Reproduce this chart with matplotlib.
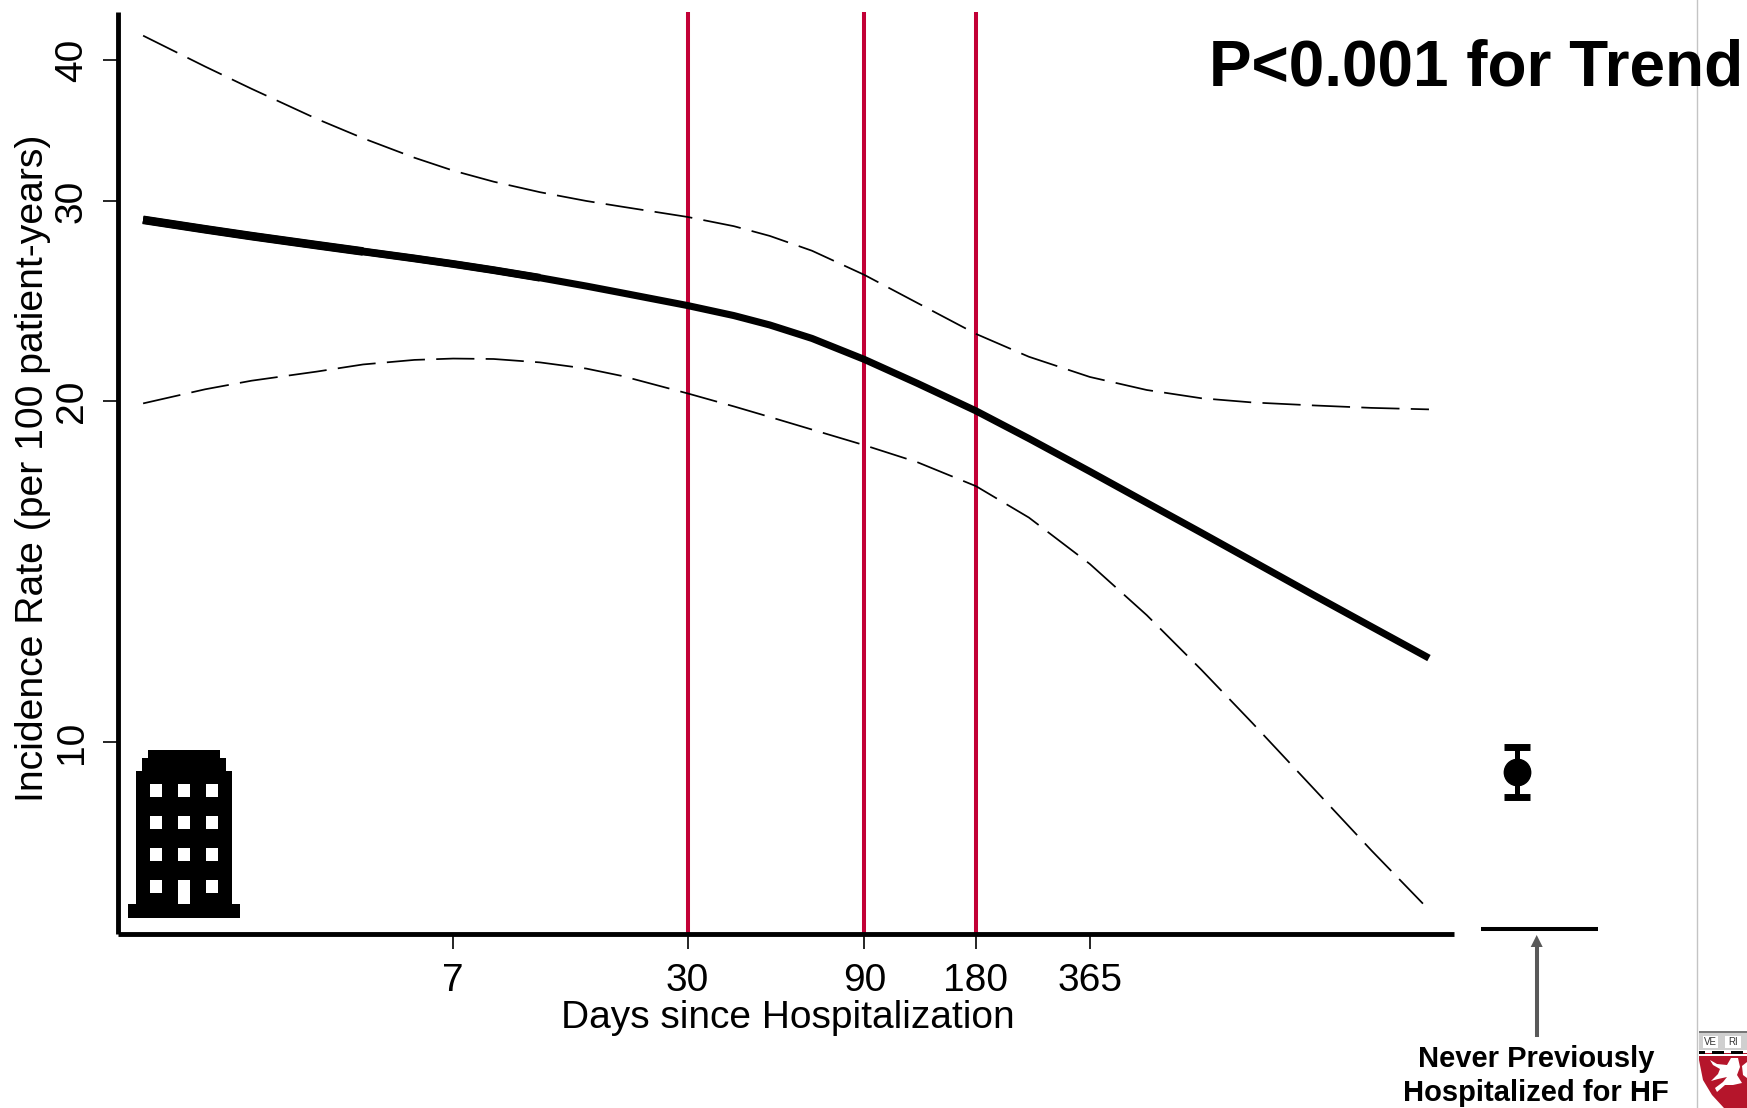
import matplotlib
matplotlib.use("Agg")
import matplotlib.pyplot as plt
from matplotlib.patches import Rectangle, Polygon

W, H = 1747, 1108
plt.rcParams['font.family'] = ['Liberation Sans', 'DejaVu Sans']

# ---- data ----
days = [1.02, 1.5, 2, 3, 4, 5.5, 7, 9, 12, 16, 20, 30, 40, 50, 65, 90, 125, 180,
        250, 365, 520, 730, 1000, 1460, 2100, 3000]
rate = [28.9, 28.35, 27.96, 27.45, 27.10, 26.72, 26.42, 26.09, 25.69, 25.26, 24.91, 24.28,
        23.79, 23.34, 22.71, 21.76, 20.73, 19.60, 18.53, 17.33, 16.26, 15.30, 14.45,
        13.49, 12.64, 11.86]
upper = [42.02, 39.46, 37.72, 35.48, 34.11, 32.79, 31.94, 31.23, 30.57, 30.03, 29.68, 29.07,
         28.53, 27.97, 27.14, 25.84, 24.41, 22.92, 21.88, 21.0, 20.45, 20.11, 19.94, 19.82,
         19.72, 19.66]
lower_days = [1.02, 1.5, 2, 3, 4, 5.5, 7, 9, 12, 16, 20, 30, 40, 50, 65, 90, 125, 180,
              250, 365, 520, 730, 1000, 1460, 2100, 2890]
lower = [19.9, 20.48, 20.84, 21.23, 21.54, 21.74, 21.80, 21.78, 21.63, 21.36, 21.04, 20.31,
         19.78, 19.36, 18.87, 18.28, 17.66, 16.82, 15.78, 14.36, 12.94, 11.58, 10.40,
         9.11, 8.02, 7.2]
cut_days = [30, 90, 180]
x_ticks = [7, 30, 90, 180, 365]
y_ticks = [10, 20, 30, 40]
never_rate = 9.41
never_lo = 8.94
never_hi = 9.9

def box(l, t, r, b):
    return [l / W, 1 - b / H, (r - l) / W, (b - t) / H]

def fx(x):
    return x / W

def fy(y):
    return 1 - y / H

fig = plt.figure(figsize=(W / 100, H / 100), dpi=100, facecolor='white')

# ---- main panel ----
ax = fig.add_axes(box(117.5, 12, 1454, 934.3))
ax.set_xscale('log')
ax.set_yscale('log')
ax.set_xlim(0.870, 3505)
ax.set_ylim(6.765, 44.09)
for s in ('top', 'right'):
    ax.spines[s].set_visible(False)
for s in ('left', 'bottom'):
    ax.spines[s].set_linewidth(3.5)
    ax.spines[s].set_capstyle('butt')

for d in cut_days:
    ax.axvline(d, color='#C20036', lw=2.9, zorder=1)

ax.plot(days, rate, color='black', lw=5.1, solid_capstyle='butt', zorder=3)
ax.plot(days[:9], rate[:9], color='black', lw=5.6, solid_capstyle='butt', zorder=3)
ax.plot(days[:5], rate[:5], color='black', lw=6.2, solid_capstyle='butt', zorder=3)
ax.plot(days, upper, color='black', lw=1.25, dashes=(22, 6.5), dash_capstyle='butt', zorder=2)
ax.plot(lower_days, lower, color='black', lw=1.25, dashes=(22, 6.5), dash_capstyle='butt', zorder=2)

ax.set_xticks(x_ticks)
ax.set_xticklabels([str(v) for v in x_ticks])
ax.set_yticks(y_ticks)
ax.set_yticklabels([str(v) for v in y_ticks], rotation=90, va='center')
ax.minorticks_off()
ax.tick_params(axis='x', length=10.5, width=1.2, labelsize=28, pad=10)
ax.tick_params(axis='y', length=10.5, width=1.2, labelsize=28, pad=9.5)

# ---- reference group panel ----
ax2 = fig.add_axes(box(1481, 12, 1598, 928.7))
ax2.patch.set_alpha(0)
ax2.set_xlim(0, 1)
ax2.set_yscale('log')
ax2.set_ylim(6.84, 44.09)
for s in ('top', 'right', 'left'):
    ax2.spines[s].set_visible(False)
ax2.spines['bottom'].set_linewidth(2.9)
ax2.spines['bottom'].set_capstyle('butt')
ax2.set_xticks([])
ax2.set_yticks([])
ax2.minorticks_off()
ax2.errorbar([0.31], [never_rate], yerr=[[never_rate - never_lo], [never_hi - never_rate]],
             fmt='o', color='black', ms=19, elinewidth=3.6, capsize=9.5, capthick=5)

# ---- text ----
fig.text(fx(33), fy(468), 'Incidence Rate (per 100 patient-years)', rotation=90,
         ha='center', va='center', fontsize=28.2)
fig.text(fx(788), fy(1018), 'Days since Hospitalization', ha='center', va='center', fontsize=28)
fig.text(fx(1209), fy(86), 'P<0.001 for Trend', ha='left', va='baseline', fontsize=46,
         fontweight='bold')
fig.text(fx(1536), fy(1059), 'Never Previously', ha='center', va='center', fontsize=21,
         fontweight='bold')
fig.text(fx(1536), fy(1093), 'Hospitalized for HF', ha='center', va='center', fontsize=21,
         fontweight='bold')

# ---- arrow ----
fig.add_artist(plt.Line2D([fx(1536.7)] * 2, [fy(1035), fy(945)], color='#595959', lw=2.9,
                          transform=fig.transFigure))
fig.add_artist(Polygon([(fx(1536.7), fy(935)), (fx(1530.7), fy(947)), (fx(1542.7), fy(947))],
                       closed=True, facecolor='#595959', edgecolor='none',
                       transform=fig.transFigure))

# ---- separator on the right ----
fig.add_artist(plt.Line2D([fx(1697)] * 2, [0, 1], color='#C4C4C4', lw=1.0, transform=fig.transFigure))

# ---- hospital icon ----
def rect(l, t, r, b, color, z=5):
    fig.add_artist(Rectangle((fx(l), fy(b)), (r - l) / W, (b - t) / H, facecolor=color,
                             edgecolor='none', transform=fig.transFigure, zorder=z))

rect(128, 904, 240, 918, 'black')
rect(136, 770.7, 232, 904, 'black')
rect(142, 758, 226, 771, 'black')
rect(148, 750, 220, 758, 'black')
for t, b in [(784, 796.7), (816, 828.7), (848, 860.7), (880, 892.7)]:
    for l, r in [(150, 162), (178, 190), (206, 218)]:
        rect(l, t, r, b, 'white', 6)
rect(178, 880, 190, 904, 'white', 6)

# ---- shield crest ----
def poly(points, color, z=5):
    fig.add_artist(Polygon([(fx(x), fy(y)) for x, y in points], closed=True, facecolor=color,
                           edgecolor='none', transform=fig.transFigure, zorder=z))

poly([(1699, 1031), (1747, 1031), (1747, 1108), (1724, 1108), (1712, 1095), (1703, 1080), (1699, 1060)], '#B5152B')
rect(1699, 1031, 1747, 1050, '#CFCFCF', 6)
rect(1699, 1031, 1747, 1033, '#777777', 7)
rect(1703, 1036, 1718, 1048, 'white', 7)
rect(1725, 1036, 1741, 1048, 'white', 7)
fig.text(fx(1710.5), fy(1042), 'VE', fontsize=7, ha='center', va='center', color='#333333', zorder=8)
fig.text(fx(1733), fy(1042), 'RI', fontsize=7, ha='center', va='center', color='#333333', zorder=8)
rect(1699, 1050, 1747, 1053, 'white', 6)
for l, r in [(1699, 1705), (1712, 1724), (1731, 1743)]:
    rect(l, 1051, r, 1054, 'black', 7)
rect(1699, 1054, 1747, 1056, 'white', 6)
lion = [(1710, 1060), (1717, 1064), (1727, 1065), (1731, 1058), (1738, 1058), (1740, 1067),
        (1737, 1075), (1742, 1083), (1733, 1085), (1725, 1085), (1717, 1092), (1715, 1088),
        (1723, 1082), (1727, 1077), (1718, 1079), (1711, 1081), (1718, 1074), (1720, 1069), (1713, 1065)]
poly(lion, 'white', 7)
poly([(1742, 1066), (1747, 1062), (1747, 1078), (1743, 1075)], 'white', 7)

fig.savefig('out.png', dpi=100, facecolor='white')
